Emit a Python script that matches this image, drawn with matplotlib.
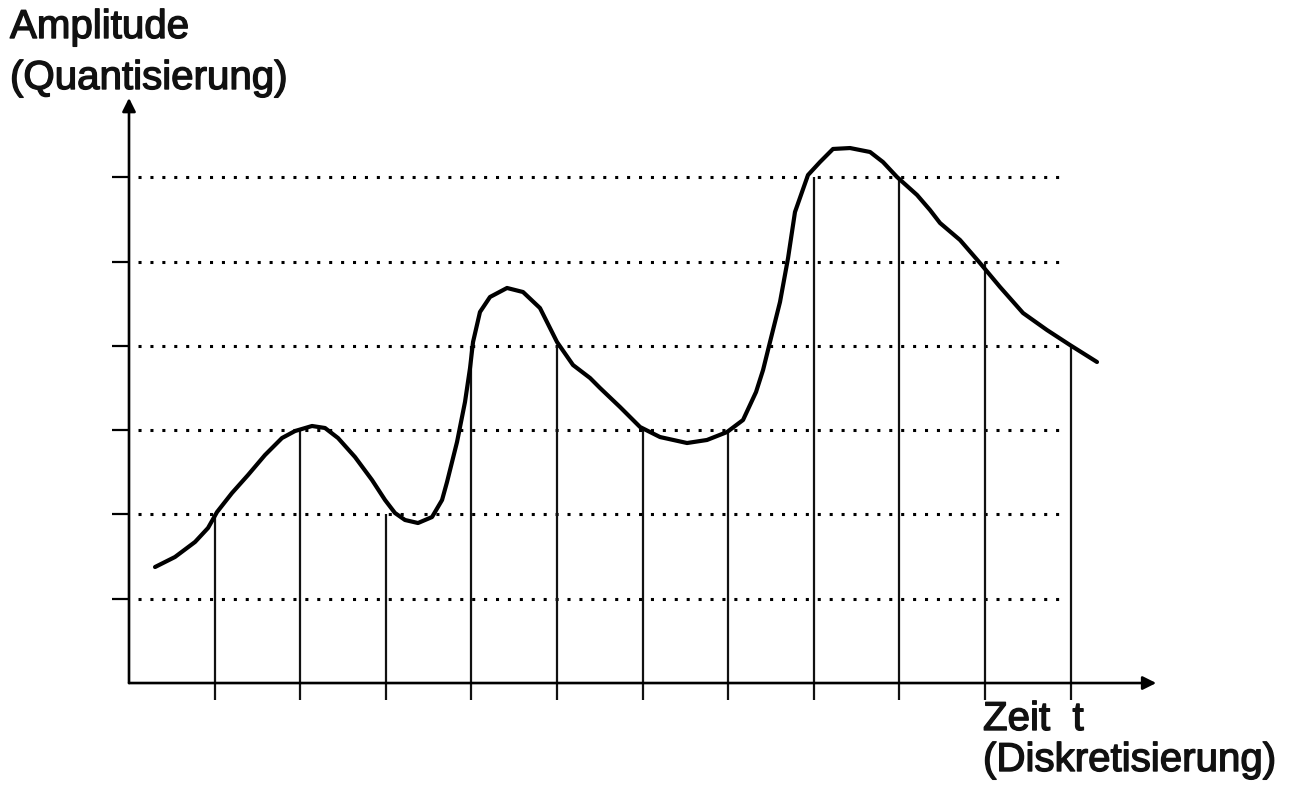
import matplotlib.pyplot as plt
import matplotlib.patheffects as pe

# sample instants and their quantised amplitude levels
sample_t = [1, 2, 3, 4, 5, 6, 7, 8, 9, 10, 11]
sample_level = [2, 3, 2, 4, 4, 3, 3, 6, 6, 5, 4]
levels = [1, 2, 3, 4, 5, 6]

# analogue signal, points (time, amplitude)
curve_t = [0.304, 0.537, 0.771, 0.923, 1.028, 1.203, 1.390, 1.589, 1.787, 1.939,
           2.138, 2.290, 2.442, 2.640, 2.839, 2.991, 3.107, 3.224, 3.376, 3.540,
           3.657, 3.715, 3.832, 3.925, 3.984, 4.019, 4.100, 4.217, 4.416, 4.603,
           4.801, 5.000, 5.187, 5.386, 5.502, 5.736, 5.970, 6.203, 6.519, 6.752,
           6.986, 7.173, 7.325, 7.407, 7.488, 7.605, 7.699, 7.780, 7.862, 7.932,
           8.072, 8.224, 8.423, 8.657, 8.808, 8.972, 9.206, 9.357, 9.474, 9.708,
           9.941, 10.175, 10.444, 10.724, 10.993, 11.308]
curve_a = [1.376, 1.495, 1.673, 1.839, 2.028, 2.254, 2.467, 2.705, 2.906, 2.989,
           3.049, 3.025, 2.906, 2.681, 2.408, 2.171, 2.017, 1.934, 1.898, 1.969,
           2.171, 2.384, 2.859, 3.333, 3.737, 4.045, 4.401, 4.579, 4.686, 4.638,
           4.448, 4.045, 3.772, 3.618, 3.500, 3.274, 3.037, 2.918, 2.847, 2.883,
           2.977, 3.120, 3.452, 3.713, 4.045, 4.520, 5.041, 5.587, 5.824, 6.026,
           6.180, 6.335, 6.346, 6.299, 6.180, 6.002, 5.789, 5.611, 5.457, 5.255,
           4.982, 4.698, 4.389, 4.187, 4.009, 3.808]

fig = plt.figure(figsize=(12.89, 7.89), dpi=100)
ax = fig.add_axes([0, 0, 1, 1])
ax.set_xlim(-1.507, 13.551)
ax.set_ylim(-1.257, 8.102)
ax.axis('off')

# dotted quantisation levels
ax.hlines(levels, 0.11, 10.95, colors='black', linewidth=2.2, linestyles=(0, (1, 2.9)))
# small ticks on the amplitude axis
ax.hlines(levels, -0.2, 0, colors='black', linewidth=1.6)

# sampling lines
ax.vlines(sample_t, -0.2, sample_level, colors='#111111', linewidth=1.6)

# axes with arrows
ax.annotate('', xy=(12.0, 0), xytext=(0, 0),
            arrowprops=dict(arrowstyle='-|>', color='black', lw=1.9, mutation_scale=20,
                            shrinkA=0, shrinkB=0))
ax.annotate('', xy=(0, 6.94), xytext=(0, 0),
            arrowprops=dict(arrowstyle='-|>', color='black', lw=1.9, mutation_scale=20,
                            shrinkA=0, shrinkB=0))

# the signal
ax.plot(curve_t, curve_a, color='black', linewidth=3.0, solid_joinstyle='round',
        solid_capstyle='round')

font = dict(family='Liberation Sans', fontsize=29, color='#111111',
            path_effects=[pe.withStroke(linewidth=1.0, foreground='#111111')])
fig.text(10 / 1289, 1 - 38 / 789, 'Amplitude', ha='left', va='baseline', **font)
fig.text(10 / 1289, 1 - 89 / 789, '(Quantisierung)', ha='left', va='baseline', **font)
fig.text(983 / 1289, 1 - 730 / 789, 'Zeit  t', ha='left', va='baseline', **font)
fig.text(983 / 1289, 1 - 771 / 789, '(Diskretisierung)', ha='left', va='baseline', **font)

fig.savefig('out.png', dpi=100, facecolor='white')
